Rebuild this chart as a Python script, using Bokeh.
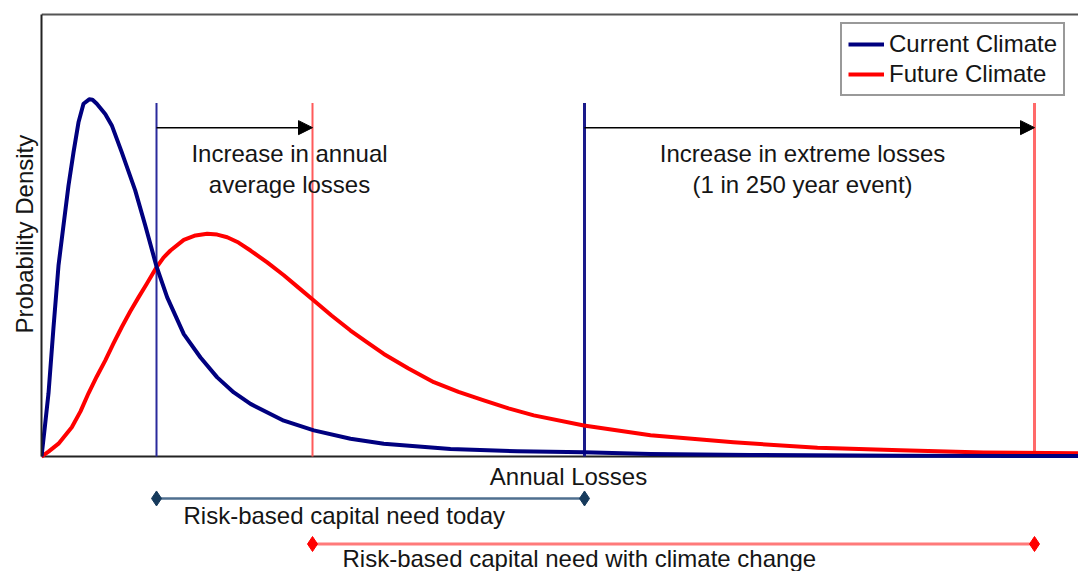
from bokeh.plotting import figure
from bokeh.models import Range1d, Legend, LegendItem, Arrow, NormalHead, ColumnDataSource, FixedTicker, Title
from bokeh.core.properties import value
from bokeh.embed import file_html
from bokeh.resources import INLINE

# ---- data (x: annual losses, y: probability density, arbitrary units)
current_x = [0.0, 0.35, 0.7, 1.2, 1.7, 2.2, 2.7, 3.2, 3.7, 4.2, 4.77, 5.1, 5.53, 6.37, 7.03,
             8.03, 9.37, 10.37, 11.5, 12.57, 14.23, 15.9, 17.57, 19.23, 20.9, 24.23, 27.23,
             30.9, 34.23, 40.9, 47.57, 54.23, 60.9, 70.9, 85.9, 104.5]
current_y = [0.0, 7.0, 14.3, 29.2, 43.2, 52.3, 61.3, 68.8, 75.6, 79.8, 80.8, 80.7, 79.8, 77.5, 74.9,
             68.8, 60.2, 52.3, 43.0, 36.0, 27.7, 22.4, 17.9, 14.5, 11.9, 8.1, 5.9,
             4.0, 2.9, 1.7, 1.2, 0.97, 0.57, 0.34, 0.18, 0.11]

future_x = [0.0, 0.7, 1.7, 3.03, 3.9, 4.7, 5.53, 6.37, 7.2, 8.03, 8.87, 9.7, 10.53, 11.5, 12.2,
            12.9, 14.23, 15.4, 16.57, 17.57, 18.57, 19.7, 20.9, 22.57, 24.23, 25.7, 27.23,
            29.0, 30.9, 32.57, 34.23, 36.7, 39.23, 41.7, 44.23, 46.7, 49.23, 54.23, 60.9,
            69.2, 77.6, 85.9, 94.2, 104.5]
future_y = [0.0, 1.1, 2.9, 6.6, 10.2, 14.3, 18.1, 21.7, 25.6, 29.3, 32.8, 36.0, 39.1, 42.8, 45.0,
            46.6, 49.0, 50.0, 50.4, 50.2, 49.6, 48.4, 46.6, 43.9, 41.0, 38.2, 35.3,
            31.9, 28.5, 25.8, 23.2, 19.9, 16.8, 14.6, 12.7, 10.9, 9.3, 7.0, 4.8,
            3.2, 2.0, 1.4, 0.9, 0.7]

# key loss levels: annual average and 1-in-250-year losses
current_mean = 11.5
future_mean = 27.1
current_extreme = 54.3
future_extreme = 99.3

series_labels = ["Current Climate", "Future Climate"]
arrow_labels = [["Increase in annual", "average losses"],
                ["Increase in extreme losses", "(1 in 250 year event)"]]
capital_labels = ["Risk-based capital need today", "Risk-based capital need with climate change"]
x_label = "Annual Losses"
y_label = "Probability Density"

FONT = "Liberation Sans"
TXT = "#151515"
NAVY = "#00007f"
RED = "#ff0000"

X_MAX = 103.7
Y_TOP = 100.0

p = figure(width=1078, height=571, output_backend="svg", toolbar_location=None, tools="",
           x_range=Range1d(0, X_MAX), y_range=Range1d(-26.02, 100.9),
           min_border_left=41, min_border_right=0, min_border_top=10, min_border_bottom=0,
           x_axis_location=None, y_axis_location="left")
p.grid.visible = False
p.outline_line_color = None
p.background_fill_color = "white"

ax = p.yaxis[0]
ax.ticker = FixedTicker(ticks=[])
ax.major_tick_line_color = None
ax.minor_tick_line_color = None
ax.major_label_text_font_size = "0px"
ax.major_label_standoff = 0
ax.bounds = (0, Y_TOP)
ax.axis_line_width = 2
ax.axis_line_color = "#222222"

# y axis title, placed along the density axis (0..100)
p.add_layout(Title(text=y_label, align="left", offset=238, standoff=8,
                   text_font=FONT, text_font_size="24px", text_font_style="normal",
                   text_color=TXT), "left")

# frame lines (top border and bottom axis line)
p.line(x=[0, X_MAX], y=[Y_TOP, Y_TOP], line_color="#555555", line_width=2)
p.line(x=[0, X_MAX], y=[0, 0], line_color="#222222", line_width=2)

# vertical marker lines
mk_top = 80.0
p.segment(x0=[current_mean], y0=[0], x1=[current_mean], y1=[mk_top], line_color="#2a2a9c", line_width=2)
p.segment(x0=[future_mean], y0=[0], x1=[future_mean], y1=[mk_top], line_color="#ff5a5a", line_width=2)
p.segment(x0=[current_extreme], y0=[0], x1=[current_extreme], y1=[mk_top], line_color="#1a1a8a", line_width=3)
p.segment(x0=[future_extreme], y0=[0], x1=[future_extreme], y1=[mk_top], line_color="#ff6a6a", line_width=3)

# curves
r_future = p.line(x=future_x, y=future_y, line_color=RED, line_width=4, line_join="round")
r_current = p.line(x=current_x, y=current_y, line_color=NAVY, line_width=4, line_join="round")

# arrows
arrow_y = 74.4
asrc = ColumnDataSource(dict(x0=[current_mean, current_extreme], x1=[future_mean, future_extreme],
                             y=[arrow_y, arrow_y]))
p.add_layout(Arrow(source=asrc, x_start="x0", y_start="y", x_end="x1", y_end="y",
                   line_color="black", line_width=1.5,
                   end=NormalHead(size=14, fill_color="black", line_color="black", line_width=1)))

# arrow texts
p.text(x=[24.8, 24.8, 76.1, 76.1], y=[68.6, 61.5, 68.6, 61.5],
       text=[arrow_labels[0][0], arrow_labels[0][1], arrow_labels[1][0], arrow_labels[1][1]],
       text_font=value(FONT), text_font_size="24px", text_align="center", text_baseline="middle",
       text_color=TXT)

# x axis label
p.text(x=[52.7], y=[-4.6], text=[x_label], text_font=value(FONT), text_font_size="24px",
       text_align="center", text_baseline="middle", text_color=TXT)

# capital need bars
p.segment(x0=[current_mean], y0=[-9.5], x1=[current_extreme], y1=[-9.5], line_color="#4f6f8f", line_width=2.5)
p.scatter(x=[current_mean, current_extreme], y=[-9.5, -9.5], marker="diamond", size=15,
          fill_color="#163a5c", line_color="#163a5c")
p.segment(x0=[future_mean], y0=[-19.8], x1=[future_extreme], y1=[-19.8], line_color="#ff7a7a", line_width=3)
p.scatter(x=[future_mean, future_extreme], y=[-19.8, -19.8], marker="diamond", size=15,
          fill_color=RED, line_color=RED)
p.text(x=[14.2, 30.1], y=[-13.3, -23.0], text=capital_labels, text_font=value(FONT),
       text_font_size="24px", text_align="left", text_baseline="middle", text_color=TXT)

legend = Legend(items=[LegendItem(label=series_labels[0], renderers=[r_current]),
                       LegendItem(label=series_labels[1], renderers=[r_future])],
                location=(799, 475), orientation="vertical",
                label_text_font=FONT, label_text_font_size="24px", label_text_color=TXT,
                glyph_width=36, glyph_height=28, label_height=28, label_standoff=5,
                padding=6, spacing=2, margin=0,
                border_line_color="#333333", border_line_width=2,
                background_fill_color="white", background_fill_alpha=1.0)
p.add_layout(legend)

open("out.html", "w").write(file_html(p, INLINE))
